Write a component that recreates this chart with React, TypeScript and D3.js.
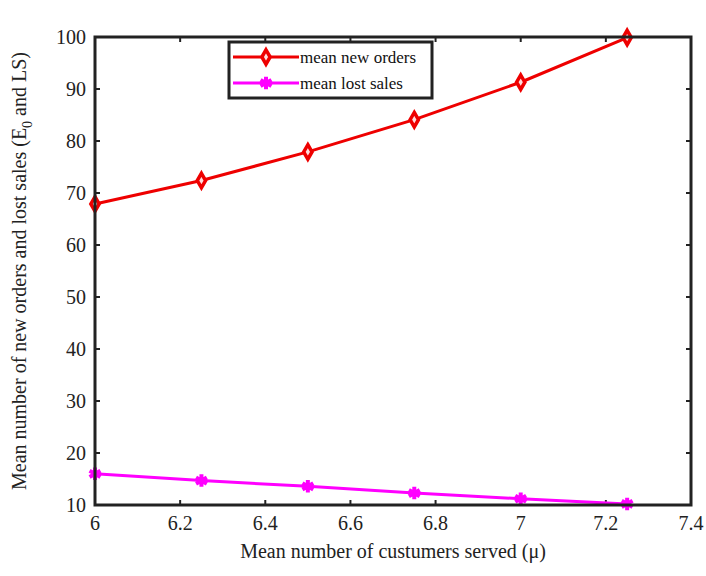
import React, { useEffect, useRef } from 'react';
import * as d3 from 'd3';

const mu = [6, 6.25, 6.5, 6.75, 7, 7.25];
const newOrders = [67.9, 72.4, 77.9, 84.1, 91.3, 99.9];
const lostSales = [16.0, 14.7, 13.6, 12.3, 11.2, 10.2];
const xTicks = [6, 6.2, 6.4, 6.6, 6.8, 7, 7.2, 7.4];
const yTicks = [10, 20, 30, 40, 50, 60, 70, 80, 90, 100];
const seriesNames = ['mean new orders', 'mean lost sales'];
const seriesColors = ['#ee0000', '#ff00ff'];

function App() {
  const ref = useRef<SVGSVGElement>(null);

  useEffect(() => {
    const width = 706;
    const height = 576;
    const margin = { left: 95, right: 15, top: 37, bottom: 71 };
    const font = '"Liberation Serif", "Times New Roman", serif';

    const svg = d3.select(ref.current);
    svg.selectAll('*').remove();
    svg.attr('width', width).attr('height', height);

    const x = d3.scaleLinear().domain([6, 7.4]).range([margin.left, width - margin.right]);
    const y = d3.scaleLinear().domain([10, 100]).range([height - margin.bottom, margin.top]);
    const x0 = x.range()[0], x1 = x.range()[1];
    const y0 = y.range()[0], y1 = y.range()[1];
    const tickLen = 5;
    const axisColor = '#222';

    // ticks, inside on all four sides
    const g = svg.append('g');
    xTicks.forEach(t => {
      g.append('line').attr('x1', x(t)).attr('x2', x(t)).attr('y1', y0).attr('y2', y0 - tickLen)
        .attr('stroke', axisColor).attr('stroke-width', 2);
      g.append('line').attr('x1', x(t)).attr('x2', x(t)).attr('y1', y1).attr('y2', y1 + tickLen)
        .attr('stroke', axisColor).attr('stroke-width', 2);
      g.append('text').attr('x', x(t)).attr('y', y0 + 25).attr('text-anchor', 'middle')
        .style('font-family', font).style('font-size', '20px').attr('fill', '#222')
        .text(String(t));
    });
    yTicks.forEach(t => {
      g.append('line').attr('x1', x0).attr('x2', x0 + tickLen).attr('y1', y(t)).attr('y2', y(t))
        .attr('stroke', axisColor).attr('stroke-width', 2);
      g.append('line').attr('x1', x1).attr('x2', x1 - tickLen).attr('y1', y(t)).attr('y2', y(t))
        .attr('stroke', axisColor).attr('stroke-width', 2);
      g.append('text').attr('x', x0 - 9).attr('y', y(t)).attr('dy', '0.35em').attr('text-anchor', 'end')
        .style('font-family', font).style('font-size', '20px').attr('fill', '#222')
        .text(String(t));
    });

    const line = d3.line<number>().x((d, i) => x(mu[i])).y(d => y(d));
    const diamond = d3.symbol().type(d3.symbolDiamond).size(60);
    const star = d3.symbol().type(d3.symbolAsterisk).size(110);

    // new orders
    svg.append('path').datum(newOrders).attr('d', line).attr('fill', 'none')
      .attr('stroke', seriesColors[0]).attr('stroke-width', 3);
    svg.selectAll('.dia').data(newOrders).join('path')
      .attr('transform', (d, i) => `translate(${x(mu[i])},${y(d)})`)
      .attr('d', diamond).attr('fill', '#ffdddd').attr('stroke', seriesColors[0]).attr('stroke-width', 3.5);

    // lost sales
    svg.append('path').datum(lostSales).attr('d', line).attr('fill', 'none')
      .attr('stroke', seriesColors[1]).attr('stroke-width', 3);
    svg.selectAll('.star').data(lostSales).join('path')
      .attr('transform', (d, i) => `translate(${x(mu[i])},${y(d)})`)
      .attr('d', star).attr('fill', 'none').attr('stroke', seriesColors[1]).attr('stroke-width', 4);

    // frame
    svg.append('rect').attr('x', x0).attr('y', y1).attr('width', x1 - x0).attr('height', y0 - y1)
      .attr('fill', 'none').attr('stroke', axisColor).attr('stroke-width', 3);

    // legend
    const lg = svg.append('g').attr('transform', 'translate(229,42)');
    lg.append('rect').attr('width', 203).attr('height', 56).attr('fill', 'white')
      .attr('stroke', axisColor).attr('stroke-width', 3);
    seriesNames.forEach((name, i) => {
      const ly = 15 + i * 26;
      lg.append('line').attr('x1', 4).attr('x2', 70).attr('y1', ly).attr('y2', ly)
        .attr('stroke', seriesColors[i]).attr('stroke-width', 3);
      lg.append('path').attr('transform', `translate(37,${ly})`)
        .attr('d', i === 0 ? diamond : star)
        .attr('fill', i === 0 ? '#ffdddd' : 'none')
        .attr('stroke', seriesColors[i]).attr('stroke-width', i === 0 ? 3.5 : 4);
      lg.append('text').attr('x', 71).attr('y', ly).attr('dy', '0.35em')
        .style('font-family', font).style('font-size', '17px').attr('fill', '#111').text(name);
    });

    // axis labels
    const xl = svg.append('text').attr('x', (x0 + x1) / 2).attr('y', 558).attr('text-anchor', 'middle')
      .style('font-family', font).style('font-size', '20px').attr('fill', '#222');
    xl.append('tspan').text('Mean number of custumers served (');
    xl.append('tspan').text('μ');
    xl.append('tspan').text(')');

    const yl = svg.append('text').attr('transform', `translate(26,${(y0 + y1) / 2}) rotate(-90)`)
      .attr('text-anchor', 'middle')
      .style('font-family', font).style('font-size', '20px').attr('fill', '#222');
    yl.append('tspan').text('Mean number of new orders and lost sales (E');
    yl.append('tspan').attr('dy', 6).style('font-size', '14px').text('0');
    yl.append('tspan').attr('dy', -6).text(' and LS)');
  }, []);

  return <svg ref={ref} style={{ position: 'absolute', left: 0, top: 0 }}></svg>;
}

export default App;
